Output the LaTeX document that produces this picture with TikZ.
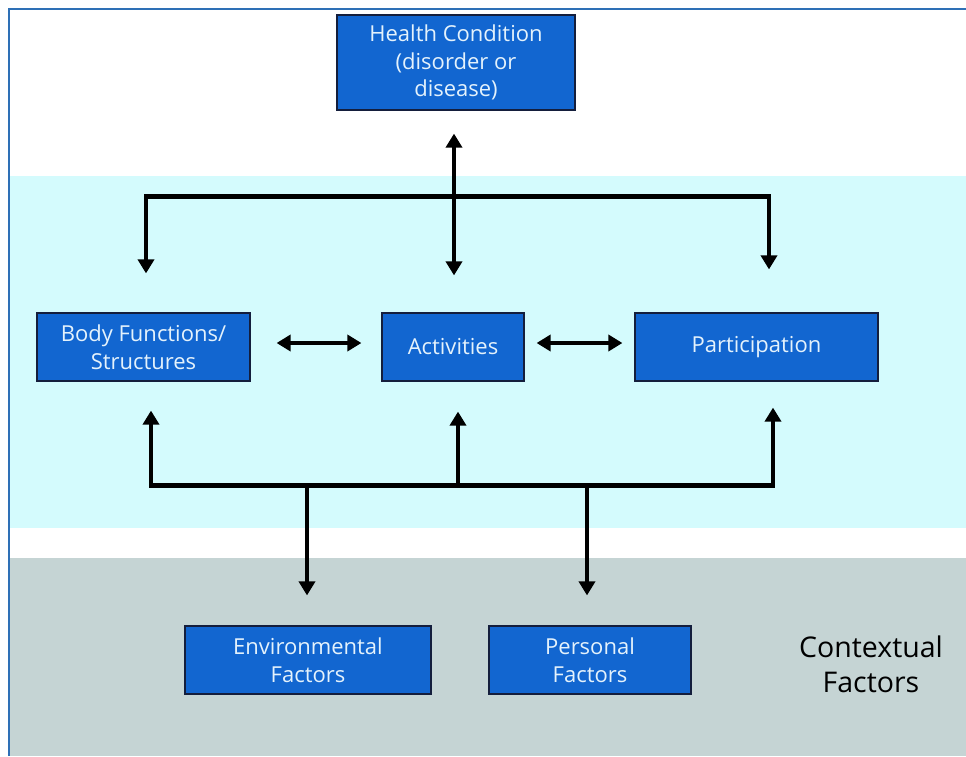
\documentclass[tikz,border=0pt]{standalone}
\usepackage{fontspec}
\setmainfont{Open Sans}
\usetikzlibrary{arrows.meta,calc}
\definecolor{boxblue}{RGB}{18,102,208}
\definecolor{boxedge}{RGB}{20,30,60}
\definecolor{boxtext}{RGB}{228,242,252}
\definecolor{cyanband}{RGB}{212,251,253}
\definecolor{grayband}{RGB}{197,212,212}
\definecolor{frameblue}{RGB}{46,112,182}
\tikzset{
  box/.style={draw=boxedge, line width=1.2pt, fill=boxblue, text=boxtext, align=center,
    font=\fontsize{22}{27.5}\selectfont, inner sep=0pt},
  conn/.style={line width=4.5pt, line join=miter, -{Triangle[width=16pt,length=14pt]}},
  dconn/.style={line width=4.5pt, line join=miter, {Triangle[width=16pt,length=14pt]}-{Triangle[width=16pt,length=14pt]}},
}
\begin{document}
\begin{tikzpicture}[x=1pt,y=-1pt]
\useasboundingbox (0,0) rectangle (966,756);
\fill[white] (0,0) rectangle (966,756);
\fill[cyanband] (9,176) rectangle (966,528);
\fill[grayband] (9,558) rectangle (966,756);
\draw[frameblue, line width=2.5pt] (966,9) -- (9,9) -- (9,756);

\node[box, minimum width=238pt, minimum height=95pt] (hc) at (456,62.5) {Health Condition\\(disorder or\\disease)};
\node[box, minimum width=213pt, minimum height=68pt] (bf) at (143.5,347) {Body Functions/\\Structures};
\node[box, minimum width=142pt, minimum height=68pt] (act) at (453,347) {Activities};
\node[box, minimum width=243pt, minimum height=68pt] (pa) at (756.5,347) {Participation};
\node[box, minimum width=246pt, minimum height=68pt] (env) at (308,660) {Environmental\\Factors};
\node[box, minimum width=202pt, minimum height=68pt] (pers) at (590,660) {Personal\\Factors};
\node[align=center, font=\fontsize{28.5}{35}\selectfont, text=black] (ctx) at (871,664) {Contextual\\Factors};

% health condition <-> activities
\draw[dconn] ($(hc.south)+(-2,23)$) -- ($(act.north)+(1,-37)$);
% top bus
\draw[dconn] ($(bf.north)+(2.5,-39)$) |- ($(pa.north)+(12.5,-116)$) -- ($(pa.north)+(12.5,-43)$);
% horizontal links
\draw[dconn] ($(bf.east)+(26,-4)$) -- ($(act.west)+(-20,-4)$);
\draw[dconn] ($(act.east)+(12,-4)$) -- ($(pa.west)+(-12,-4)$);
% bottom bus
\draw[dconn] ($(bf.south)+(7.5,29)$) |- ($(pa.south)+(16.5,104)$) -- ($(pa.south)+(16.5,26)$);
\draw[conn] ($(act.south)+(5,104)$) -- ($(act.south)+(5,30)$);
\draw[conn] ($(env.north)+(-1,-141)$) -- ($(env.north)+(-1,-30)$);
\draw[conn] ($(pers.north)+(-3,-141)$) -- ($(pers.north)+(-3,-30)$);
\end{tikzpicture}
\end{document}
